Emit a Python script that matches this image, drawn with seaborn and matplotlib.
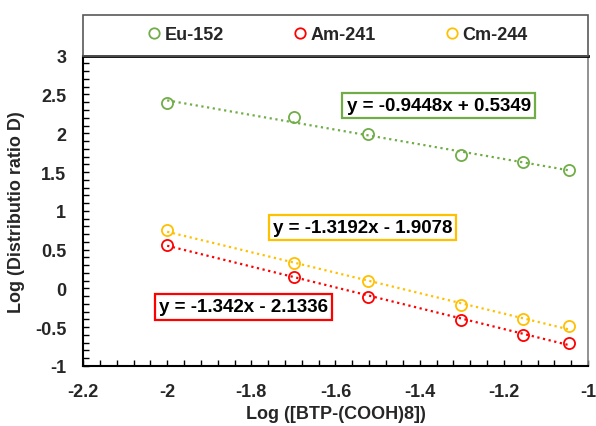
import numpy as np
import pandas as pd
import seaborn as sns
import matplotlib
matplotlib.use("Agg")
import matplotlib.pyplot as plt
from matplotlib.lines import Line2D
from matplotlib.patches import Rectangle

# ---- data ----
log_btp = [-2.0, -1.699, -1.523, -1.301, -1.155, -1.046]
series = ["Eu-152", "Am-241", "Cm-244"]
eu = [2.39, 2.21, 1.99, 1.72, 1.63, 1.53]
am = [0.56, 0.15, -0.11, -0.41, -0.60, -0.70]
cm = [0.75, 0.33, 0.09, -0.21, -0.40, -0.49]
slopes = [-0.9448, -1.342, -1.3192]
intercepts = [0.5349, -2.1336, -1.9078]
equations = ["y = -0.9448x + 0.5349", "y = -1.342x - 2.1336", "y = -1.3192x - 1.9078"]
colors = ["#70AD47", "#FF0000", "#FFC000"]
eq_pos = [(-1.355, 2.358), (-1.818, -0.238), (-1.536, 0.789)]
xticks = [-2.2, -2.0, -1.8, -1.6, -1.4, -1.2, -1.0]
xticklabels = ["-2.2", "-2", "-1.8", "-1.6", "-1.4", "-1.2", "-1"]
yticks = [-1, -0.5, 0, 0.5, 1, 1.5, 2, 2.5, 3]
yticklabels = ["-1", "-0.5", "0", "0.5", "1", "1.5", "2", "2.5", "3"]

sns.set_style("white")
plt.rcParams["font.family"] = ["Liberation Sans", "DejaVu Sans"]
plt.rcParams["font.weight"] = "bold"

fig = plt.figure(figsize=(5.96, 4.27), dpi=100)
ax = fig.add_axes([83/596, 1-367/427, (588-83)/596, (367-56.7)/427])

values = [eu, am, cm]
for name, vals, c, m, b in zip(series, values, colors, slopes, intercepts):
    xs = np.array([min(log_btp), max(log_btp)])
    df_line = pd.DataFrame({"x": xs, "y": m * xs + b})
    sns.lineplot(data=df_line, x="x", y="y", ax=ax, color=c, lw=1.6,
                 linestyle=(0, (1, 1.6)), zorder=2)
    df = pd.DataFrame({"x": log_btp, "y": vals})
    sns.lineplot(data=df, x="x", y="y", ax=ax, linestyle="none", marker="o",
                 markersize=8, markerfacecolor="none", markeredgecolor=c,
                 markeredgewidth=1.3, zorder=3)

for eq, (ex, ey), c in zip(equations, eq_pos, colors):
    ax.text(ex, ey, eq, ha="center", va="center", fontsize=13.5, fontweight="bold",
            color="black",
            bbox=dict(boxstyle="square,pad=0.22", fc="white", ec=c, lw=1.6), zorder=4)

ax.set_xlim(-2.2, -1.0)
ax.set_ylim(-1, 3)
ax.set_xticks(xticks)
ax.set_xticklabels(xticklabels)
ax.set_yticks(yticks)
ax.set_yticklabels(yticklabels)
ax.set_xticks(np.arange(-2.2, -0.999, 0.04), minor=True)
ax.set_yticks(np.arange(-1, 3.001, 0.1), minor=True)
ax.tick_params(axis="both", which="both", direction="in", length=4, width=1,
               labelsize=13, pad=12, color="black")
ax.tick_params(axis="x", which="both", top=False, bottom=True)
ax.tick_params(axis="y", which="both", right=False, left=True, pad=12)
for lab in ax.get_xticklabels() + ax.get_yticklabels():
    lab.set_fontweight("bold")
ax.set_xlabel("Log ([BTP-(COOH)8])", fontsize=13, fontweight="bold", labelpad=4)
ax.set_ylabel("Log (Distributio ratio D)", fontsize=13, fontweight="bold", labelpad=7)

for s in ["left", "bottom"]:
    ax.spines[s].set_color("black")
    ax.spines[s].set_linewidth(1.5)
ax.spines["top"].set_color("black")
ax.spines["top"].set_linewidth(2.0)
ax.spines["right"].set_color("#7f7f7f")
ax.spines["right"].set_linewidth(1.2)

# legend box above plot
fig.patches.append(Rectangle((83/596, 1-56.7/427), (588-83)/596, (56.7-15.7)/427,
                             transform=fig.transFigure, fill=False,
                             ec="#595959", lw=1.2, zorder=0))
handles = [Line2D([], [], linestyle="none", marker="o", markersize=7.5,
                  markerfacecolor="none", markeredgecolor=c, markeredgewidth=1.3)
           for c in colors]
fig.legend(handles, series, loc="center", bbox_to_anchor=(338/596, 1-35.5/427),
           ncol=3, frameon=False, handlelength=0.6, handletextpad=0.3,
           columnspacing=3.9, prop={"weight": "bold", "size": 13})

fig.savefig("out.png", dpi=100)
